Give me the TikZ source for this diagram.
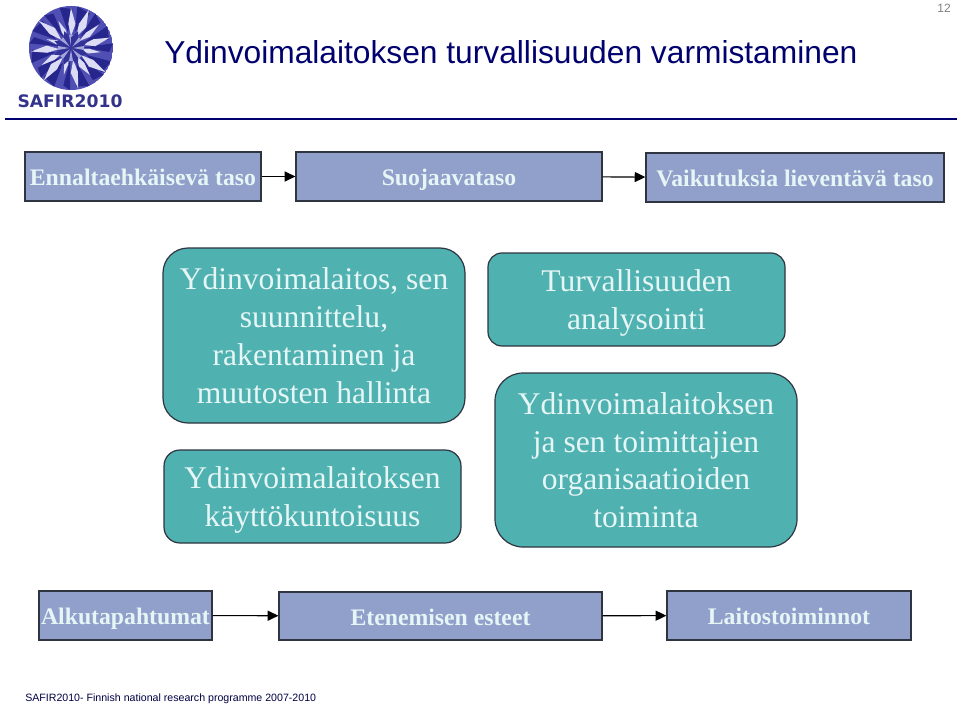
\documentclass[tikz,border=0pt]{standalone}
\usepackage{fontspec}
\setmainfont{Liberation Serif}
\newfontfamily\arialfont{Liberation Sans}
\newfontfamily\logofont{DejaVu Sans}
\usetikzlibrary{arrows.meta}
\definecolor{navyblue}{HTML}{00006E}
\definecolor{levelblue}{HTML}{919FCB}
\definecolor{areateal}{HTML}{50B1B1}
\definecolor{edgegray}{HTML}{2E3440}
\definecolor{paletext}{HTML}{E6F5F5}
\definecolor{gemdark}{HTML}{26268C}
\definecolor{gemmid}{HTML}{5050B4}
\definecolor{gemlight}{HTML}{DCDCF5}
\begin{document}
\begin{tikzpicture}[
    x=0.75pt, y=-0.75pt,
    level/.style={draw=edgegray, fill=levelblue, line width=0.9pt, inner sep=0pt, text=paletext, text height=14pt, text depth=0pt, font=\bfseries\fontsize{17.8pt}{20pt}\selectfont},
    area/.style={draw=edgegray, fill=areateal, line width=0.9pt, inner sep=0pt, align=center, text=paletext, text depth=0pt, execute at begin node=\rule{0pt}{18.5pt}, font=\fontsize{23.7pt}{28.3pt}\selectfont},
    link/.style={-{Triangle[length=8pt,width=7.5pt]}, line width=0.8pt, black},
  ]
  \useasboundingbox (0,0) rectangle (960,706);
  % logo
  \begin{scope}
    \clip (71,48) circle (42);
    \fill[gemmid] (71,48) circle (42);
    \foreach \a/\r/\w in {0/40/9,25/30/6,50/42/10,70/26/5,95/40/9,120/34/7,140/42/10,165/28/5,190/41/9,215/33/8,235/42/10,262/30/6,285/40/9,310/36/7,335/42/10} {
      \fill[gemdark, rotate around={\a+11:(71,48)}] (71,48-0.4*\r) -- (71+\w,10) -- (71-\w*0.4,6) -- cycle;
      \fill[gemlight, rotate around={\a:(71,48)}] (71,48-\r) -- (71+\w*0.5,48-0.6*\r) -- (71,48-0.3*\r) -- (71-\w*0.3,48-0.6*\r) -- cycle;
    }
    \foreach \a in {0,45,...,315} {
      \fill[gemdark!70!gemmid, rotate around={\a+22:(71,48)}] (71,48) -- (67,38) -- (71,30) -- (75,38) -- cycle;
      \fill[gemlight!60!gemmid, rotate around={\a:(71,48)}] (71,46) -- (69,35) -- (73,35) -- cycle;
    }
  \end{scope}
  \node[inner sep=0pt, text=navyblue!80!white, font=\logofont\bfseries\fontsize{12.9pt}{15pt}\selectfont] (logotext) at (70,101) {SAFIR2010};
  % otsikko
  \node[inner sep=0pt, anchor=west, text=navyblue, font=\arialfont\fontsize{23.8pt}{28pt}\selectfont] (title) at (164,52) {Ydinvoimalaitoksen turvallisuuden varmistaminen};
  \node[inner sep=0pt, text=black!50, font=\arialfont\fontsize{9pt}{11pt}\selectfont] (pagenum) at (944,8) {12};
  \draw[navyblue, line width=2pt] (5,119) -- (957,119);
  % tasot
  \node[level, minimum width=236*0.75pt, minimum height=49*0.75pt] (prevent) at (143,176.5) {Ennaltaehkäisevä taso};
  \node[level, minimum width=306*0.75pt, minimum height=49*0.75pt] (protect) at (449,176.5) {Suojaavataso};
  \node[level, minimum width=298*0.75pt, minimum height=49*0.75pt] (mitigate) at (795,177.5) {Vaikutuksia lieventävä taso};
  \draw[link] (prevent) -- (protect);
  \draw[link] (protect) -- (mitigate);
  % alueet
  \node[area, rounded corners=25*0.75pt, minimum width=302*0.75pt, minimum height=175*0.75pt] (plant) at (314,335.5) {Ydinvoimalaitos, sen\\suunnittelu,\\rakentaminen ja\\muutosten hallinta};
  \node[area, rounded corners=16*0.75pt, minimum width=297*0.75pt, minimum height=93*0.75pt] (avail) at (312.5,496.5) {Ydinvoimalaitoksen\\käyttökuntoisuus};
  \node[area, rounded corners=14*0.75pt, minimum width=297*0.75pt, minimum height=93*0.75pt] (analysis) at (636.5,299.5) {Turvallisuuden\\analysointi};
  \node[area, rounded corners=28*0.75pt, minimum width=302*0.75pt, minimum height=174*0.75pt] (orgs) at (646,460) {Ydinvoimalaitoksen\\ja sen toimittajien\\organisaatioiden\\toiminta};
  % alarivi
  \node[level, minimum width=173*0.75pt, minimum height=49*0.75pt] (events) at (125.5,615.5) {Alkutapahtumat};
  \node[level, minimum width=323*0.75pt, minimum height=48*0.75pt] (barriers) at (440.5,616) {Etenemisen esteet};
  \node[level, minimum width=244*0.75pt, minimum height=49*0.75pt] (functions) at (789,615.5) {Laitostoiminnot};
  \draw[link] (events) -- (barriers);
  \draw[link] (barriers) -- (functions);
  \node[inner sep=0pt, anchor=west, text=navyblue!60!black, font=\arialfont\fontsize{7.96pt}{10pt}\selectfont] (footer) at (25,699) {SAFIR2010- Finnish national research programme 2007-2010};
\end{tikzpicture}
\end{document}
